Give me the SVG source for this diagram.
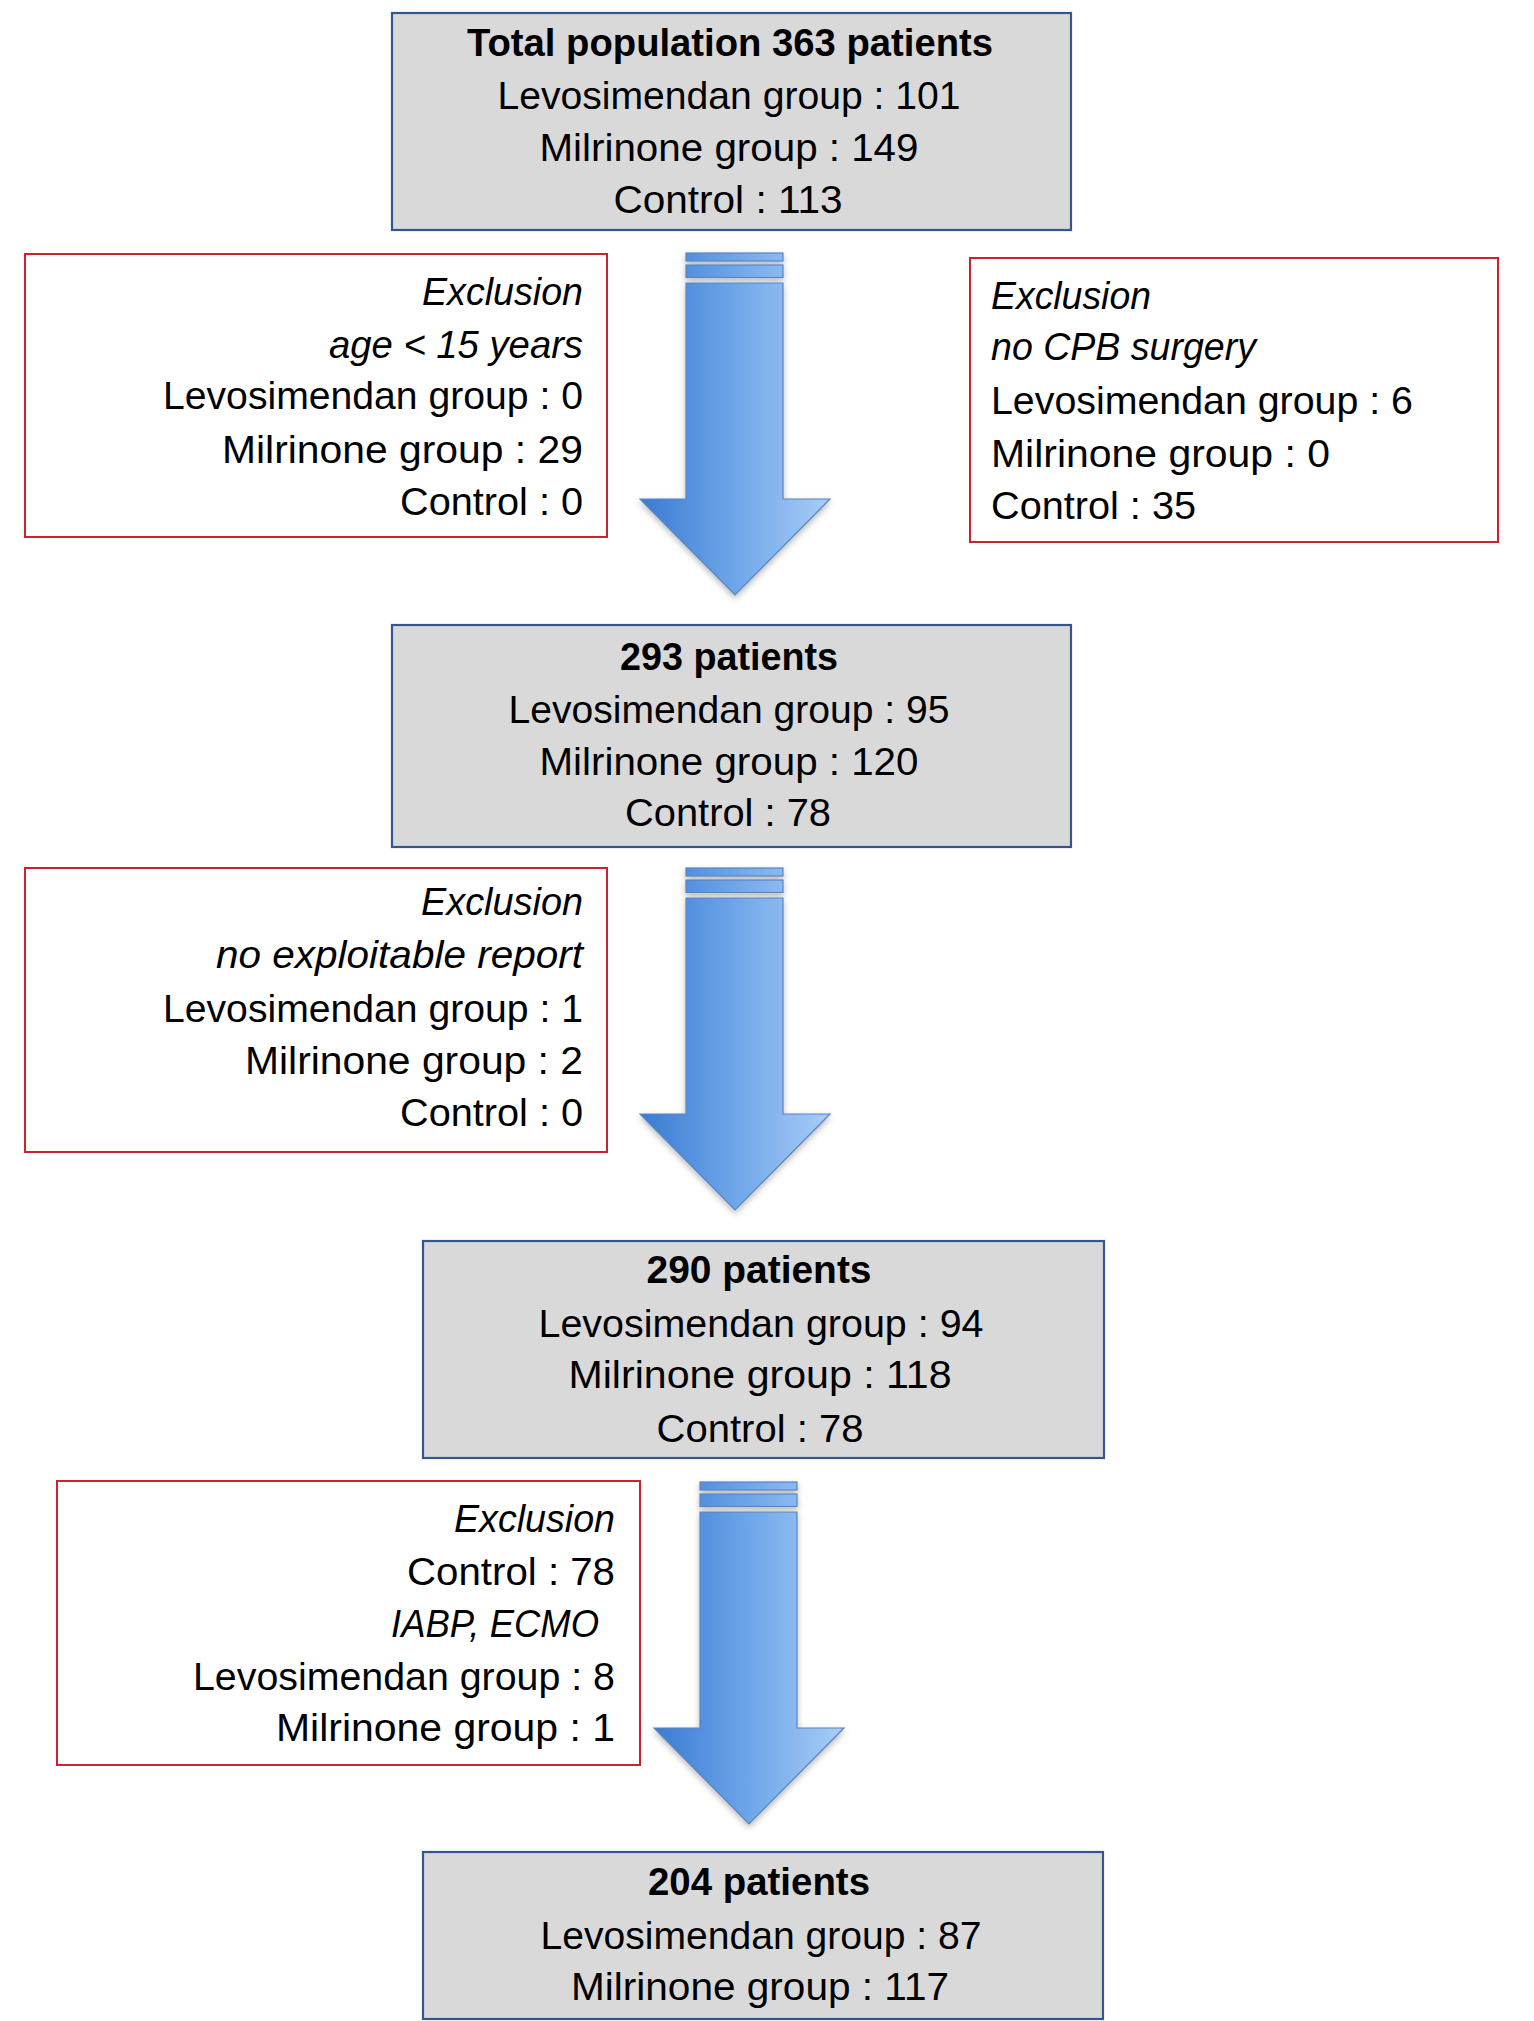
<svg xmlns="http://www.w3.org/2000/svg" width="1534" height="2021" viewBox="0 0 1534 2021">
  <defs>
    <linearGradient id="arrowGrad" gradientUnits="userSpaceOnUse" x1="640" y1="0" x2="830" y2="0">
      <stop offset="0" stop-color="#3a7bd2"/>
      <stop offset="0.5" stop-color="#6ea6e9"/>
      <stop offset="1" stop-color="#a9cdf7"/>
    </linearGradient>
    <filter id="shadow" x="-20%" y="-10%" width="140%" height="130%">
      <feDropShadow dx="0" dy="3" stdDeviation="3" flood-color="#000" flood-opacity="0.28"/>
    </filter>
    <g id="arrowShape">
      <rect x="686" y="253" width="97" height="8" />
      <rect x="686" y="265" width="97" height="12.5" />
      <path d="M686,283 H783 V499 H830 L735,595 L640,499 H686 Z" />
    </g>
  </defs>
  <style>
    .node { fill: #d9d9d9; stroke: #34558e; stroke-width: 2.2; }
    .excl { fill: #ffffff; stroke: #cc2230; stroke-width: 2; }
    .t { font-family: "Liberation Sans", Arial, sans-serif; font-size: 39px; fill: #000; }
    .b { font-weight: bold; }
    .i { font-style: italic; }
    .c { text-anchor: middle; }
    .r { text-anchor: end; }
    .l { text-anchor: start; }
    .arrow { fill: url(#arrowGrad); stroke: #5a84c0; stroke-width: 1.2; filter: url(#shadow); }
  </style>
  <rect width="1534" height="2021" fill="#ffffff"/>

  <g id="connectors">
    <g class="arrow" id="arrow1"><use href="#arrowShape"/></g>
    <g class="arrow" id="arrow2" transform="translate(0,615)"><use href="#arrowShape"/></g>
    <g class="arrow" id="arrow3" transform="translate(14,1229)"><use href="#arrowShape"/></g>
  </g>

  <g id="node-total">
    <rect class="node" x="392" y="13" width="679" height="217"/>
    <text class="t b c" x="730" y="56" textLength="526" lengthAdjust="spacingAndGlyphs">Total population 363 patients</text>
    <text class="t c" x="729" y="109" textLength="463" lengthAdjust="spacingAndGlyphs">Levosimendan group : 101</text>
    <text class="t c" x="729" y="161" textLength="379" lengthAdjust="spacingAndGlyphs">Milrinone group : 149</text>
    <text class="t c" x="728" y="213" textLength="229" lengthAdjust="spacingAndGlyphs">Control : 113</text>
  </g>

  <g id="excl-age">
    <rect class="excl" x="25" y="254" width="582" height="283"/>
    <text class="t i r" x="583" y="305" textLength="161" lengthAdjust="spacingAndGlyphs">Exclusion</text>
    <text class="t i r" x="583" y="358" textLength="254" lengthAdjust="spacingAndGlyphs">age &lt; 15 years</text>
    <text class="t r" x="583" y="409" textLength="420" lengthAdjust="spacingAndGlyphs">Levosimendan group : 0</text>
    <text class="t r" x="583" y="463" textLength="361" lengthAdjust="spacingAndGlyphs">Milrinone group : 29</text>
    <text class="t r" x="583" y="515" textLength="183" lengthAdjust="spacingAndGlyphs">Control : 0</text>
  </g>

  <g id="excl-cpb">
    <rect class="excl" x="970" y="258" width="528" height="284"/>
    <text class="t i l" x="991" y="309" textLength="160" lengthAdjust="spacingAndGlyphs">Exclusion</text>
    <text class="t i l" x="991" y="360" textLength="265" lengthAdjust="spacingAndGlyphs">no CPB surgery</text>
    <text class="t l" x="991" y="414" textLength="422" lengthAdjust="spacingAndGlyphs">Levosimendan group : 6</text>
    <text class="t l" x="991" y="467" textLength="339" lengthAdjust="spacingAndGlyphs">Milrinone group : 0</text>
    <text class="t l" x="991" y="519" textLength="205" lengthAdjust="spacingAndGlyphs">Control : 35</text>
  </g>

  <g id="node-293">
    <rect class="node" x="392" y="625" width="679" height="222"/>
    <text class="t b c" x="729" y="670" textLength="218" lengthAdjust="spacingAndGlyphs">293 patients</text>
    <text class="t c" x="729" y="723" textLength="441" lengthAdjust="spacingAndGlyphs">Levosimendan group : 95</text>
    <text class="t c" x="729" y="775" textLength="379" lengthAdjust="spacingAndGlyphs">Milrinone group : 120</text>
    <text class="t c" x="728" y="826" textLength="206" lengthAdjust="spacingAndGlyphs">Control : 78</text>
  </g>

  <g id="excl-report">
    <rect class="excl" x="25" y="868" width="582" height="284"/>
    <text class="t i r" x="583" y="915" textLength="162" lengthAdjust="spacingAndGlyphs">Exclusion</text>
    <text class="t i r" x="583" y="968" textLength="367" lengthAdjust="spacingAndGlyphs">no exploitable report</text>
    <text class="t r" x="583" y="1022" textLength="420" lengthAdjust="spacingAndGlyphs">Levosimendan group : 1</text>
    <text class="t r" x="583" y="1074" textLength="338" lengthAdjust="spacingAndGlyphs">Milrinone group : 2</text>
    <text class="t r" x="583" y="1126" textLength="183" lengthAdjust="spacingAndGlyphs">Control : 0</text>
  </g>

  <g id="node-290">
    <rect class="node" x="423" y="1241" width="681" height="217"/>
    <text class="t b c" x="759" y="1283" textLength="225" lengthAdjust="spacingAndGlyphs">290 patients</text>
    <text class="t c" x="761" y="1337" textLength="445" lengthAdjust="spacingAndGlyphs">Levosimendan group : 94</text>
    <text class="t c" x="760" y="1388" textLength="383" lengthAdjust="spacingAndGlyphs">Milrinone group : 118</text>
    <text class="t c" x="760" y="1442" textLength="207" lengthAdjust="spacingAndGlyphs">Control : 78</text>
  </g>

  <g id="excl-iabp">
    <rect class="excl" x="57" y="1481" width="583" height="284"/>
    <text class="t i r" x="615" y="1532" textLength="161" lengthAdjust="spacingAndGlyphs">Exclusion</text>
    <text class="t r" x="615" y="1585" textLength="208" lengthAdjust="spacingAndGlyphs">Control : 78</text>
    <text class="t i r" x="599" y="1637" textLength="208" lengthAdjust="spacingAndGlyphs">IABP, ECMO</text>
    <text class="t r" x="615" y="1690" textLength="422" lengthAdjust="spacingAndGlyphs">Levosimendan group : 8</text>
    <text class="t r" x="615" y="1741" textLength="339" lengthAdjust="spacingAndGlyphs">Milrinone group : 1</text>
  </g>

  <g id="node-204">
    <rect class="node" x="423" y="1852" width="680" height="167"/>
    <text class="t b c" x="759" y="1895" textLength="222" lengthAdjust="spacingAndGlyphs">204 patients</text>
    <text class="t c" x="761" y="1949" textLength="441" lengthAdjust="spacingAndGlyphs">Levosimendan group : 87</text>
    <text class="t c" x="760" y="2000" textLength="378" lengthAdjust="spacingAndGlyphs">Milrinone group : 117</text>
  </g>
</svg>
